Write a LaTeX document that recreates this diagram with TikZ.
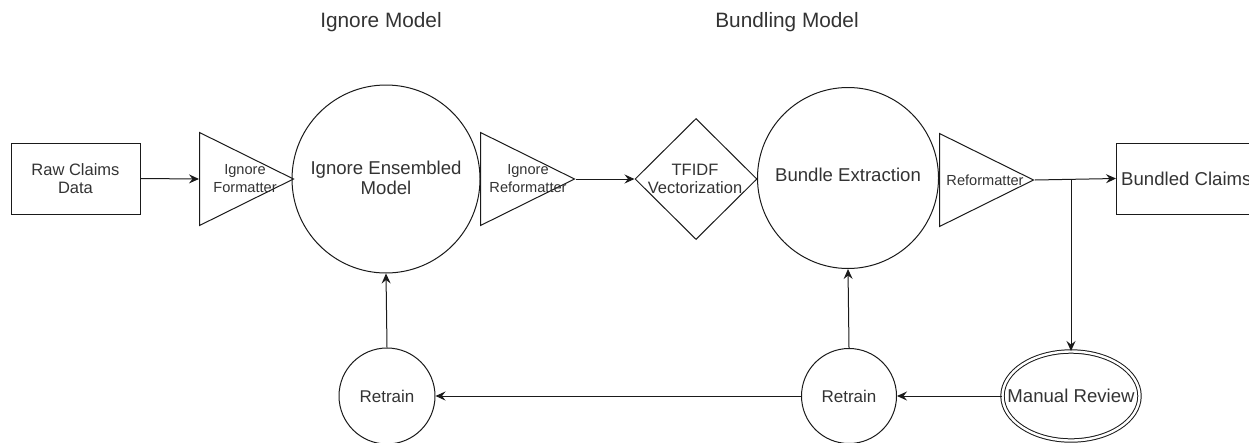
\documentclass[tikz,border=0pt]{standalone}
\usepackage{fontspec}
\setmainfont{Liberation Sans}
\usetikzlibrary{shapes.geometric,arrows.meta}
\definecolor{ink}{HTML}{1A1A1A}
\definecolor{txt}{HTML}{333333}
\tikzset{
  every node/.style={text=txt},
  link/.style={draw=ink, line width=1pt},
  arr/.style={link, -{Stealth[length=10pt,width=9pt,inset=3.5pt]}},
  box/.style={draw=ink, line width=1pt, rectangle, minimum width=129pt, minimum height=71pt, inner sep=0pt},
  stage/.style={draw=ink, line width=1pt, circle, inner sep=0pt},
  fmt/.style={draw=ink, line width=1pt, isosceles triangle, isosceles triangle stretches,
              shape border rotate=0, minimum width=93pt, minimum height=94pt, inner sep=0pt},
  vec/.style={draw=ink, line width=1pt, diamond, minimum width=122pt, minimum height=121pt, inner sep=0pt},
  review/.style={draw=ink, line width=1pt, ellipse, double, double distance=2.4pt,
                 minimum width=137pt, minimum height=89pt, inner sep=0pt},
  caption/.style={font=\fontsize{20.8}{24}\selectfont},
  big/.style={font=\fontsize{18.6}{20}\selectfont, align=center},
  mid/.style={font=\fontsize{16.5}{18}\selectfont, align=center},
  small/.style={font=\fontsize{14.6}{18}\selectfont, align=center},
}
\begin{document}
\begin{tikzpicture}[x=1pt, y=-1pt]
\useasboundingbox (0,0) rectangle (1249,442);
\clip (0,0) rectangle (1249,442);

% section headings
\node[caption] (hIgnore) at (381,22) {Ignore Model};
\node[caption] (hBundle) at (787,22) {Bundling Model};

% main pipeline
\node[box] (raw) at (75.5,178.5) {};
\node[mid] (rawT) at (75.5,178.5) {Raw Claims\\Data};

\node[fmt, anchor=lower side] (f1) at (199,179) {};
\node[small] (f1T) at (245,179) {Ignore\\Formatter};

\node[stage, minimum size=188pt] (ens) at (386,179) {};
\node[big] (ensT) at (386,178) {Ignore Ensembled\\Model};

\node[fmt, anchor=lower side] (f2) at (480,179) {};
\node[small] (f2T) at (528,179) {Ignore\\Reformatter};

\node[vec] (tfidf) at (696,179) {};
\node[mid] (tfidfT) at (695,179) {TFIDF\\Vectorization};

\node[stage, minimum size=181pt] (bex) at (848,178) {};
\node[big] (bexT) at (848,175) {Bundle Extraction};

\node[fmt, anchor=lower side] (f3) at (939,180) {};
\node[small] (f3T) at (985,180) {Reformatter};

\node[box, minimum width=146pt, anchor=west] (out) at (1116,178.5) {};
\node[big, anchor=west, inner sep=0pt] (outT) at (1121,179) {Bundled Claims};

% feedback loop
\node[review] (man) at (1071,396) {};
\node[big] (manT) at (1071,396) {Manual Review};

\node[stage, minimum size=95pt] (rt2) at (849,396) {};
\node[mid, font=\fontsize{17}{20}\selectfont] (rt2T) at (849,396) {Retrain};

\node[stage, minimum size=96pt] (rt1) at (387,396) {};
\node[mid, font=\fontsize{17}{20}\selectfont] (rt1T) at (387,396) {Retrain};

% connectors
\draw[arr] (raw.east) -- (f1.lower side);
\draw[arr] (f2.apex) -- (tfidf.west);
\draw[arr] (f3.apex) -- (out.west);
\coordinate (split) at (man.north |- f3.apex);
\draw[arr] (split) -- (man.north);
\draw[arr] (man.west) -- (rt2.east);
\draw[arr] (rt2.west) -- (rt1.east);
\draw[arr] (rt2.north) -- (bex.south);
\draw[arr] (rt1.north) -- (ens.south);
\end{tikzpicture}
\end{document}
